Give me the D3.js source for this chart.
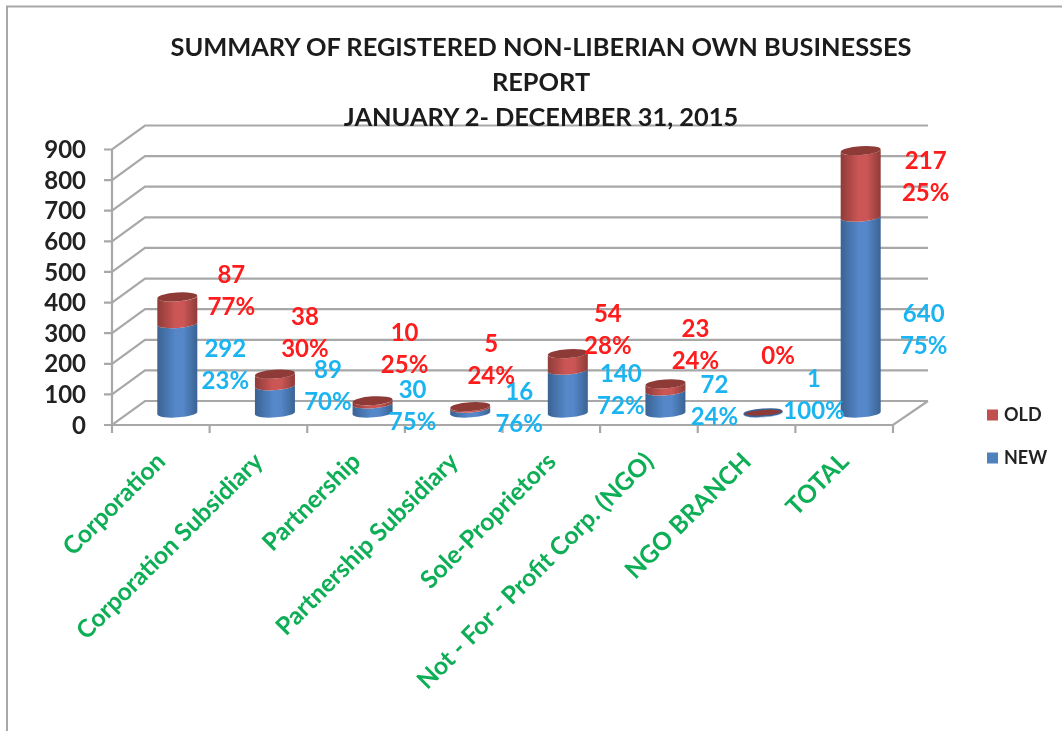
<!DOCTYPE html>
<html>
<head>
<meta charset="utf-8">
<script src="https://cdn.jsdelivr.net/npm/d3@7"></script>
<style>
  html, body { margin: 0; background: #fff; }
  text { font-family: Lato, "Open Sans", sans-serif; font-weight: 700; }
</style>
</head>
<body>
<svg id="chart"></svg>
<script>
const categories = ["Corporation", "Corporation Subsidiary", "Partnership", "Partnership Subsidiary",
  "Sole-Proprietors", "Not - For - Profit Corp. (NGO)", "NGO BRANCH", "TOTAL"];
const newValues = [292, 89, 30, 16, 140, 72, 1, 640];
const oldValues = [87, 38, 10, 5, 54, 23, 0, 217];
const newPercents = ["23%", "70%", "75%", "76%", "72%", "24%", "100%", "75%"];
const oldPercents = ["77%", "30%", "25%", "24%", "28%", "24%", "0%", "25%"];
const yTicks = [0, 100, 200, 300, 400, 500, 600, 700, 800, 900];
const titleLines = ["SUMMARY OF REGISTERED NON-LIBERIAN OWN BUSINESSES", "REPORT", "JANUARY 2- DECEMBER 31, 2015"];

// labels were dragged by hand in the original, so they get a nudge from the segment middle
const newNudge = [[48, -4], [53, -14], [40, -3], [49, -3], [53, -2], [49, -2], [51, -18], [63, 14]];
const oldNudge = [[54, -20], [30, -48], [32, -54], [21, -48], [40, -33], [30, -43], [15, -73], [65, -8]];

const width = 1062, height = 731;
const depthX = 33, depthY = 24;
const barRx = 20, barRy = 4.4, barTilt = 1.6;
const lineGap = 32;

const svg = d3.select("#chart").attr("width", width).attr("height", height);
svg.style("display", "block");

const defs = svg.append("defs");
defs.append("filter").attr("id", "soft")
  .append("feGaussianBlur").attr("stdDeviation", 0.7);

const addGradient = (id, edge, mid) => {
  const g = defs.append("linearGradient").attr("id", id);
  g.append("stop").attr("offset", "0%").attr("stop-color", edge);
  g.append("stop").attr("offset", "45%").attr("stop-color", mid);
  g.append("stop").attr("offset", "65%").attr("stop-color", mid);
  g.append("stop").attr("offset", "100%").attr("stop-color", edge);
};
addGradient("blueGrad", "#3A6393", "#5487C9");
addGradient("redGrad", "#8F3B39", "#CB5755");

const root = svg.append("g").attr("filter", "url(#soft)");

const x = d3.scaleBand().domain(categories).range([112, 893]);
const y = d3.scaleLinear().domain([0, 900]).range([425, 149.5]);
// bars stand in the middle of the floor depth
const barX = (d) => x(d) + x.bandwidth() / 2 + depthX / 2;
const barY = (v) => y(v) - depthY / 2;

// page frame, top and left only
root.append("path").attr("d", `M${width + 5},6.5H7V${height + 5}`)
  .attr("fill", "none").attr("stroke", "#A8A8A8").attr("stroke-width", 2);

// walls and floor
const gridColor = "#A8A8A8";
const grid = root.append("g").attr("fill", "none").attr("stroke", gridColor).attr("stroke-width", 2.2);
grid.selectAll("path.grid").data(yTicks).enter().append("path")
  .attr("class", "grid")
  .attr("d", (d) => `M104,${y(d)}H112L${112 + depthX},${y(d) - depthY}H928`);
grid.append("path").attr("d", `M112,${y(900)}V${y(0)}H893L928,${y(0) - depthY}`);
grid.selectAll("path.tick").data(d3.range(categories.length + 1)).enter().append("path")
  .attr("class", "tick")
  .attr("d", (i) => `M${112 + i * x.step()},${y(0)}v8`);

// y axis labels
root.selectAll("text.ylab").data(yTicks).enter().append("text")
  .attr("class", "ylab")
  .attr("x", 86).attr("y", (d) => y(d)).attr("dy", "0.36em")
  .attr("text-anchor", "end").attr("font-size", 24).attr("fill", "#222")
  .text((d) => d);

// title sits on top of the back wall line
root.selectAll("text.title").data(titleLines).enter().append("text")
  .attr("class", "title")
  .attr("x", 541).attr("y", (d, i) => 47 + i * 35).attr("dy", "0.36em")
  .attr("text-anchor", "middle").attr("font-size", 25.4).attr("fill", "#1a1a1a")
  .text((d) => d);

// category labels
root.selectAll("text.cat").data(categories).enter().append("text")
  .attr("class", "cat")
  .attr("transform", (d) => `translate(${x(d) + x.bandwidth() / 2 + 6},${y(0) + 38}) rotate(-45)`)
  .attr("text-anchor", "end").attr("font-size", 24.6).attr("fill", "#0DAE55")
  .text((d) => d);

// one stacked cylinder for a category, the ellipses lean a little like in the 3d view
const segmentPath = (cx, y0, y1) =>
  `M${cx - barRx},${y1 + barTilt}V${y0 + barTilt}A${barRx},${barRy} -4 0 0 ${cx + barRx},${y0 - barTilt}` +
  `V${y1 - barTilt}A${barRx},${barRy} -4 0 1 ${cx - barRx},${y1 + barTilt}Z`;

const bars = root.selectAll("g.bar").data(categories).enter().append("g").attr("class", "bar");
bars.append("path")
  .attr("fill", "url(#blueGrad)")
  .attr("d", (d, i) => segmentPath(barX(d), barY(0), barY(newValues[i])));
bars.append("path")
  .attr("fill", "url(#redGrad)")
  .attr("d", (d, i) => segmentPath(barX(d), barY(newValues[i]), barY(newValues[i] + oldValues[i])));
// the lid, an empty OLD segment leaves the blue rim showing
bars.append("ellipse")
  .attr("transform", (d, i) => `translate(${barX(d)},${barY(newValues[i] + oldValues[i])}) rotate(-4)`)
  .attr("rx", (d, i) => (oldValues[i] > 0 ? barRx : barRx - 1))
  .attr("ry", (d, i) => (oldValues[i] > 0 ? barRy : barRy - 1))
  .attr("fill", "#8E3A38")
  .attr("stroke", (d, i) => (oldValues[i] > 0 ? "none" : "#3A6393"))
  .attr("stroke-width", 1.5);

// data labels, value above percent
const addLabels = (values, percents, nudge, base, color, cls) => {
  const anchorY = (i) => barY(base(i) + values[i] / 2) + nudge[i][1];
  const anchorX = (i) => barX(categories[i]) + nudge[i][0];
  root.selectAll(`text.${cls}v`).data(values).enter().append("text")
    .attr("class", `${cls}v`)
    .attr("x", (d, i) => anchorX(i)).attr("y", (d, i) => anchorY(i) - lineGap / 2).attr("dy", "0.36em")
    .attr("text-anchor", "middle").attr("font-size", 24).attr("fill", color)
    .text((d) => (d === 0 ? "" : d));
  root.selectAll(`text.${cls}p`).data(percents).enter().append("text")
    .attr("class", `${cls}p`)
    .attr("x", (d, i) => anchorX(i)).attr("y", (d, i) => anchorY(i) + lineGap / 2).attr("dy", "0.36em")
    .attr("text-anchor", "middle").attr("font-size", 24).attr("fill", color)
    .text((d) => d);
};
addLabels(newValues, newPercents, newNudge, () => 0, "#1AB4F0", "n");
addLabels(oldValues, oldPercents, oldNudge, (i) => newValues[i], "#FF1A1A", "o");

// legend
const legend = root.selectAll("g.legend")
  .data([["OLD", "#C0504D"], ["NEW", "#4F81BD"]])
  .enter().append("g").attr("class", "legend")
  .attr("transform", (d, i) => `translate(987,${415 + i * 43})`);
legend.append("rect").attr("y", -5.5).attr("width", 11).attr("height", 11).attr("fill", (d) => d[1]);
legend.append("text").attr("x", 17).attr("dy", "0.36em")
  .attr("font-size", 18).attr("fill", "#222").text((d) => d[0]);
</script>
</body>
</html>
